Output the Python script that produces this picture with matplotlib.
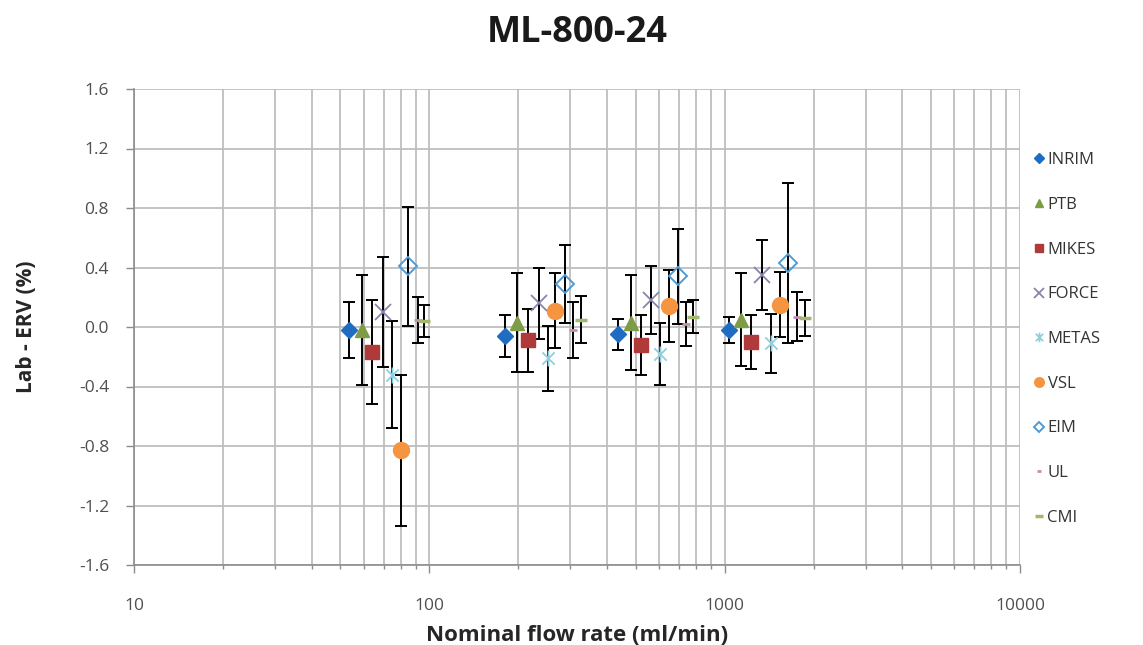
import matplotlib
matplotlib.use("Agg")
import matplotlib.pyplot as plt
from matplotlib.path import Path
from matplotlib.ticker import FixedLocator, FormatStrFormatter, NullFormatter

plt.rcParams['font.family'] = ['Open Sans', 'DejaVu Sans']

labs = ["INRIM", "PTB", "MIKES", "FORCE", "METAS", "VSL", "EIM", "UL", "CMI"]

# flow rate (ml/min) at which each lab's result is plotted, 4 nominal points
flow = {
    "INRIM": [53.5, 180, 434, 1037],
    "PTB":   [59.0, 198, 481, 1136],
    "MIKES": [63.8, 215, 521, 1225],
    "FORCE": [69.9, 235, 562, 1342],
    "METAS": [75.0, 252, 604, 1436],
    "VSL":   [80.0, 267, 648, 1540],
    "EIM":   [84.9, 287, 693, 1644],
    "UL":    [91.4, 307, 740, 1763],
    "CMI":   [96.2, 327, 783, 1872],
}
# deviation from reference value (%)
dev = {
    "INRIM": [-0.02, -0.06, -0.05, -0.02],
    "PTB":   [-0.02, 0.03, 0.03, 0.05],
    "MIKES": [-0.17, -0.09, -0.12, -0.10],
    "FORCE": [0.10, 0.16, 0.18, 0.35],
    "METAS": [-0.32, -0.21, -0.18, -0.11],
    "VSL":   [-0.83, 0.11, 0.14, 0.15],
    "EIM":   [0.41, 0.29, 0.34, 0.43],
    "UL":    [0.05, -0.02, 0.02, 0.07],
    "CMI":   [0.04, 0.05, 0.07, 0.06],
}
# expanded uncertainty (%)
unc = {
    "INRIM": [0.19, 0.14, 0.105, 0.085],
    "PTB":   [0.37, 0.33, 0.32, 0.31],
    "MIKES": [0.35, 0.21, 0.20, 0.18],
    "FORCE": [0.37, 0.24, 0.23, 0.235],
    "METAS": [0.36, 0.22, 0.21, 0.20],
    "VSL":   [0.51, 0.25, 0.24, 0.22],
    "EIM":   [0.40, 0.26, 0.32, 0.54],
    "UL":    [0.155, 0.19, 0.15, 0.165],
    "CMI":   [0.11, 0.16, 0.11, 0.12],
}

y_ticks = [-1.6, -1.2, -0.8, -0.4, 0.0, 0.4, 0.8, 1.2, 1.6]
x_ticks = [10, 100, 1000, 10000]

# star marker: an "x" crossed by a vertical stroke
star = Path([(-1, -1), (1, 1), (-1, 1), (1, -1), (0, -1.3), (0, 1.3)],
            [Path.MOVETO, Path.LINETO, Path.MOVETO, Path.LINETO, Path.MOVETO, Path.LINETO])

styles = {
    "INRIM": dict(marker="D", ms=8, mfc="#1F6DC2", mec="#1F6DC2"),
    "PTB":   dict(marker="^", ms=10.5, mfc="#7E9C45", mec="#7E9C45"),
    "MIKES": dict(marker="s", ms=9.5, mfc="#B03A3A", mec="#B03A3A"),
    "FORCE": dict(marker="x", ms=11.5, mfc="none", mec="#8B82AE", mew=1.3),
    "METAS": dict(marker=star, ms=11.5, mfc="none", mec="#8FD0E0", mew=1.3),
    "VSL":   dict(marker="o", ms=11.5, mfc="#F59441", mec="#F59441"),
    "EIM":   dict(marker="D", ms=9, mfc="none", mec="#4E9CD6", mew=1.4),
    "UL":    dict(marker="_", ms=6, mfc="none", mec="#C98DB3", mew=2),
    "CMI":   dict(marker="_", ms=9, mfc="none", mec="#A2B86C", mew=2.5),
}

fig = plt.figure(figsize=(11.43, 6.45), dpi=100)
ax = fig.add_axes([134 / 1143, 1 - 565 / 645, (1020 - 134) / 1143, (565 - 89) / 645])

for lab in labs:
    st = styles[lab]
    ax.errorbar(flow[lab], dev[lab], yerr=unc[lab], fmt="none",
                ecolor="black", elinewidth=1.4, capsize=4.5, capthick=1.4, zorder=3)
    ax.plot(flow[lab], dev[lab], linestyle="none", label=lab, zorder=4,
            marker=st["marker"], markersize=st["ms"], markerfacecolor=st["mfc"],
            markeredgecolor=st["mec"], markeredgewidth=st.get("mew", 1))

ax.set_xscale("log")
ax.set_xlim(10, 10000)
ax.set_ylim(-1.6, 1.6)
ax.set_yticks(y_ticks)
ax.yaxis.set_major_formatter(FormatStrFormatter("%.1f"))
ax.xaxis.set_major_locator(FixedLocator(x_ticks))
ax.xaxis.set_major_formatter(FormatStrFormatter("%d"))
ax.xaxis.set_minor_locator(FixedLocator([m * d for d in (10, 100, 1000) for m in range(2, 10)]))
ax.xaxis.set_minor_formatter(NullFormatter())

grid_c = "#BEBEBE"
ax.grid(True, which="major", color=grid_c, linewidth=1.3)
ax.grid(True, which="minor", axis="x", color=grid_c, linewidth=1.3)
ax.set_axisbelow(True)
for side in ("top", "right"):
    ax.spines[side].set_visible(False)
for side in ("left", "bottom"):
    ax.spines[side].set_color("#8C8C8C")
    ax.spines[side].set_linewidth(1.2)

ax.tick_params(axis="both", which="major", colors="#8C8C8C", labelcolor="#505050",
               labelsize=12.5, length=6, width=1)
ax.tick_params(axis="x", which="minor", colors="#8C8C8C", length=3, width=1)
ax.tick_params(axis="x", which="major", pad=18)
ax.tick_params(axis="y", which="major", pad=12)

ax.set_xlabel("Nominal flow rate (ml/min)", fontsize=16, fontweight="bold",
              color="#262626", labelpad=8)
ax.set_ylabel("Lab - ERV (%)", fontsize=15, fontweight="bold", color="#262626",
              labelpad=30)

fig.suptitle("ML-800-24", fontsize=26, fontweight="bold", color="#1A1A1A",
             x=577 / 1143, y=1 - 15 / 645, va="top")

leg = ax.legend(loc="upper left", bbox_to_anchor=(1025 / 1143, 1 - 144 / 645),
                bbox_transform=fig.transFigure, frameon=False, fontsize=12,
                markerscale=0.6, labelspacing=1.72, handlelength=0.7,
                handletextpad=0.15, borderpad=0)
for t in leg.get_texts():
    t.set_color("#333333")

fig.savefig("out.png", dpi=100)
